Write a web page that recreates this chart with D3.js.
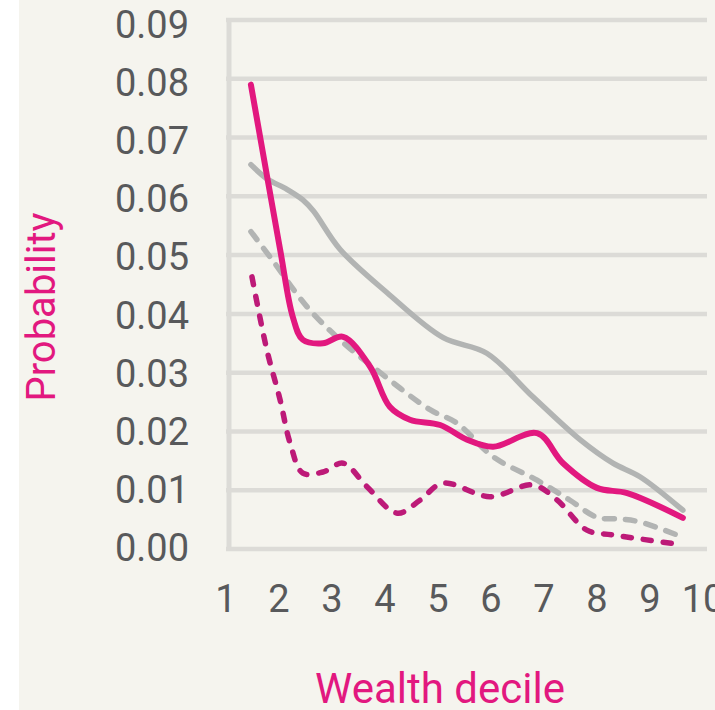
<!DOCTYPE html>
<html><head><meta charset="utf-8">
<script src="https://cdn.jsdelivr.net/npm/d3@7"></script>
<style>
html,body{margin:0;padding:0;background:#fff;}
svg{display:block;}
</style></head>
<body>
<script>
// ---- data (x in wealth-decile units, y = probability) ----
const xTicks = [1,2,3,4,5,6,7,8,9,10];
const yTicks = [0,0.01,0.02,0.03,0.04,0.05,0.06,0.07,0.08,0.09];
const yTickLabels = ["0.00","0.01","0.02","0.03","0.04","0.05","0.06","0.07","0.08","0.09"];

const pinkX = [1.47,2.02,2.26,2.45,2.83,3.21,3.72,4.09,4.47,5.04,5.55,6.04,6.87,7.36,8.00,8.57,9.62];
const pinkY = [0.079,0.051,0.0395,0.0356,0.035,0.0361,0.031,0.0242,0.022,0.0211,0.0186,0.0174,0.0197,0.0146,0.0104,0.0095,0.0053];

const graySolidX = [1.47,1.77,2.15,2.45,2.65,3.15,4.04,5.09,5.92,6.79,7.68,8.30,8.81,9.62];
const graySolidY = [0.0654,0.0630,0.0612,0.0594,0.0575,0.051,0.0436,0.036,0.0333,0.0259,0.0186,0.0146,0.0123,0.0066];

const grayDashX = [1.47,1.83,2.53,3.15,3.91,4.85,5.36,6.04,6.87,7.49,8.00,8.43,8.81,9.62];
const grayDashY = [0.054,0.0497,0.0412,0.0356,0.030,0.0237,0.0214,0.0157,0.0117,0.0083,0.0054,0.0051,0.0046,0.002];

const darkDashX = [1.49,1.77,2.02,2.21,2.45,2.83,3.21,3.66,4.23,4.66,5.09,5.98,6.79,7.25,7.81,8.30,9.62];
const darkDashY = [0.0463,0.0339,0.0254,0.018,0.0129,0.0131,0.0146,0.0106,0.0061,0.0083,0.0112,0.0089,0.0109,0.0083,0.0032,0.0024,0.0007];

// ---- layout ----
const W = 715, H = 710;
const svg = d3.select("body").append("svg").attr("width", W).attr("height", H);
svg.append("rect").attr("x",0).attr("y",0).attr("width",W).attr("height",H).attr("fill","#ffffff");
svg.append("rect").attr("x",19).attr("y",0).attr("width",W-19).attr("height",H).attr("fill","#f5f4ee");

const x = d3.scaleLinear().domain([1,10]).range([226,703]);
const y = d3.scaleLinear().domain([0,0.09]).range([549,20]);
const yLab = d3.scaleLinear().domain([0,0.09]).range([548,25]);
const gridRight = 707, axisX = 229;

const font = "Roboto, 'DejaVu Sans', sans-serif";

// gridlines
svg.append("g").selectAll("line").data(yTicks).join("line")
  .attr("x1", axisX-3).attr("x2", gridRight)
  .attr("y1", d=>y(d)).attr("y2", d=>y(d))
  .attr("stroke", "#dcdbd7").attr("stroke-width", 4.5);
// vertical axis line
svg.append("line").attr("x1",axisX).attr("x2",axisX)
  .attr("y1", y(0.09)-2).attr("y2", y(0)+2)
  .attr("stroke","#dcdbd7").attr("stroke-width",5);

// y tick labels
svg.append("g").selectAll("text").data(yTicks).join("text")
  .attr("x", 189).attr("y", d=>yLab(d))
  .attr("text-anchor","end").attr("dominant-baseline","central")
  .attr("font-family", font).attr("font-size", 38).attr("fill","#58595b")
  .text((d,i)=>yTickLabels[i]);

// x tick labels
svg.append("g").selectAll("text").data(xTicks).join("text")
  .attr("x", d=>x(d)).attr("y", 612)
  .attr("text-anchor","middle")
  .attr("font-family", font).attr("font-size", 38).attr("fill","#58595b")
  .text(d=>String(d));

// axis titles
svg.append("text").attr("x", 440).attr("y", 703)
  .attr("text-anchor","middle").attr("font-family", font).attr("font-size", 42)
  .attr("fill","#e2187f").text("Wealth decile");
svg.append("text").attr("transform","translate(55,307) rotate(-90)")
  .attr("text-anchor","middle").attr("font-family", font).attr("font-size", 40)
  .attr("fill","#e2187f").text("Probability");

// lines
const line = d3.line().x(d=>x(d[0])).y(d=>y(d[1])).curve(d3.curveCatmullRom.alpha(0.5));
function draw(xs, ys, color, width, dash){
  const p = svg.append("path").datum(xs.map((v,i)=>[v, ys[i]]))
    .attr("d", line).attr("fill","none").attr("stroke", color)
    .attr("stroke-width", width).attr("stroke-linecap","round").attr("stroke-linejoin","round");
  if (dash) p.attr("stroke-dasharray", dash);
}
draw(graySolidX, graySolidY, "#b2b4b3", 5.5, null);
draw(grayDashX, grayDashY, "#b2b4b3", 5.5, "10,11");
draw(darkDashX, darkDashY, "#bd1a78", 5.5, "8,12");
draw(pinkX, pinkY, "#e2187f", 6, null);
</script>
</body></html>
